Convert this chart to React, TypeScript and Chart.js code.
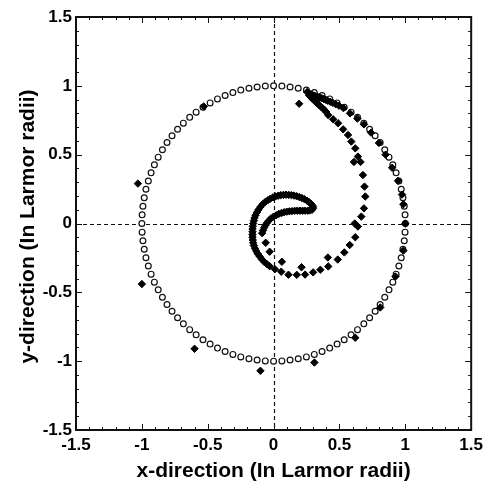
import { useEffect, useRef } from "react";
import { Chart, registerables } from "chart.js";

Chart.register(...registerables);

const FONT = '"Liberation Sans", Arial, Helvetica, sans-serif';

// Axis range and tick labels (both axes share them)
const axisMin = -1.5;
const axisMax = 1.5;
const majorStep = 0.5;
const minorStep = 0.1;
const tickLabels = ["-1.5", "-1", "-0.5", "0", "0.5", "1", "1.5"];
const xTitle = "x-direction (In Larmor radii)";
const yTitle = "y-direction (In Larmor radii)";

type Pt = [number, number];

// Reference orbit: open circles on the unit Larmor circle
const ringPoints: Pt[] = [
  [1, 0], [0.998, 0.063], [0.992, 0.125], [0.982, 0.187], [0.969, 0.249], [0.951, 0.309],
  [0.93, 0.368], [0.905, 0.426], [0.876, 0.482], [0.844, 0.536], [0.809, 0.588], [0.771, 0.637],
  [0.729, 0.685], [0.685, 0.729], [0.637, 0.771], [0.588, 0.809], [0.536, 0.844], [0.482, 0.876],
  [0.426, 0.905], [0.368, 0.93], [0.309, 0.951], [0.249, 0.969], [0.187, 0.982], [0.125, 0.992],
  [0.063, 0.998], [0, 1],
  [-0.063, 0.998], [-0.125, 0.992], [-0.187, 0.982], [-0.249, 0.969], [-0.309, 0.951],
  [-0.368, 0.93], [-0.426, 0.905], [-0.482, 0.876], [-0.536, 0.844], [-0.588, 0.809],
  [-0.637, 0.771], [-0.685, 0.729], [-0.729, 0.685], [-0.771, 0.637], [-0.809, 0.588],
  [-0.844, 0.536], [-0.876, 0.482], [-0.905, 0.426], [-0.93, 0.368], [-0.951, 0.309],
  [-0.969, 0.249], [-0.982, 0.187], [-0.992, 0.125], [-0.998, 0.063], [-1, 0],
  [-0.998, -0.063], [-0.992, -0.125], [-0.982, -0.187], [-0.969, -0.249], [-0.951, -0.309],
  [-0.93, -0.368], [-0.905, -0.426], [-0.876, -0.482], [-0.844, -0.536], [-0.809, -0.588],
  [-0.771, -0.637], [-0.729, -0.685], [-0.685, -0.729], [-0.637, -0.771], [-0.588, -0.809],
  [-0.536, -0.844], [-0.482, -0.876], [-0.426, -0.905], [-0.368, -0.93], [-0.309, -0.951],
  [-0.249, -0.969], [-0.187, -0.982], [-0.125, -0.992], [-0.063, -0.998], [0, -1],
  [0.063, -0.998], [0.125, -0.992], [0.187, -0.982], [0.249, -0.969], [0.309, -0.951],
  [0.368, -0.93], [0.426, -0.905], [0.482, -0.876], [0.536, -0.844], [0.588, -0.809],
  [0.637, -0.771], [0.685, -0.729], [0.729, -0.685], [0.771, -0.637], [0.809, -0.588],
  [0.844, -0.536], [0.876, -0.482], [0.905, -0.426], [0.93, -0.368], [0.951, -0.309],
  [0.969, -0.249], [0.982, -0.187], [0.992, -0.125], [0.998, -0.063],
];

// Particle positions (filled diamonds)
const crescentOuter: Pt[] = [
  [-0.03, -0.31], [-0.05, -0.295], [-0.07, -0.28], [-0.09, -0.26], [-0.105, -0.24],
  [-0.12, -0.22], [-0.132, -0.2], [-0.142, -0.18], [-0.15, -0.16], [-0.155, -0.14],
  [-0.158, -0.12], [-0.16, -0.1], [-0.16, -0.08], [-0.16, -0.06], [-0.16, -0.04],
  [-0.158, -0.02], [-0.155, 0], [-0.15, 0.02], [-0.145, 0.04], [-0.137, 0.06],
  [-0.127, 0.08], [-0.115, 0.1], [-0.1, 0.12], [-0.083, 0.14], [-0.065, 0.155],
  [-0.045, 0.168], [-0.025, 0.18], [-0.005, 0.19], [0.015, 0.197], [0.035, 0.202],
  [0.055, 0.206], [0.075, 0.208], [0.095, 0.209], [0.115, 0.208], [0.135, 0.206],
  [0.155, 0.203], [0.175, 0.198], [0.195, 0.192], [0.215, 0.185], [0.235, 0.176],
  [0.255, 0.165], [0.272, 0.153], [0.287, 0.14], [0.298, 0.126], [0.3, 0.112],
  [0.292, 0.1], [0.275, 0.095],
];

const crescentInner: Pt[] = [
  [0.26, 0.093], [0.24, 0.093], [0.22, 0.093], [0.2, 0.093], [0.18, 0.093], [0.16, 0.092],
  [0.14, 0.09], [0.12, 0.088], [0.1, 0.086], [0.08, 0.082], [0.06, 0.076], [0.04, 0.07],
  [0.02, 0.06], [0, 0.05], [-0.02, 0.037], [-0.035, 0.022], [-0.05, 0.005],
  [-0.062, -0.012], [-0.072, -0.03], [-0.08, -0.05], [-0.087, -0.07],
];

const innerTrail: Pt[] = [
  [-0.06, -0.14], [-0.03, -0.205], [0.063, -0.278], [0.212, -0.318], [0.412, -0.247],
  [0.616, 0.0], [0.61, 0.447], [0.194, 0.87],
];

const spiralArm: Pt[] = [
  [0.01, -0.332], [0.058, -0.35], [0.113, -0.372], [0.176, -0.373], [0.239, -0.371],
  [0.3, -0.355], [0.355, -0.336], [0.415, -0.312], [0.487, -0.262], [0.537, -0.21],
  [0.578, -0.156], [0.62, -0.1], [0.64, -0.022], [0.666, 0.05], [0.686, 0.11],
  [0.696, 0.196], [0.69, 0.268], [0.678, 0.352], [0.66, 0.447], [0.64, 0.486],
  [0.62, 0.546], [0.59, 0.595], [0.565, 0.643], [0.528, 0.684], [0.49, 0.728],
  [0.452, 0.757], [0.414, 0.788], [0.4, 0.81], [0.388, 0.823], [0.374, 0.836],
  [0.36, 0.848], [0.346, 0.86], [0.332, 0.872], [0.318, 0.884], [0.305, 0.896],
  [0.292, 0.908], [0.28, 0.92], [0.27, 0.93],
];

const outerArm: Pt[] = [
  [0.255, 0.955], [0.265, 0.948], [0.275, 0.942], [0.29, 0.936], [0.305, 0.93],
  [0.32, 0.925], [0.335, 0.92], [0.35, 0.915], [0.365, 0.91], [0.38, 0.905],
  [0.395, 0.899], [0.41, 0.892], [0.43, 0.884], [0.45, 0.876], [0.472, 0.866],
  [0.496, 0.856], [0.53, 0.838], [0.58, 0.8], [0.636, 0.762], [0.686, 0.72],
  [0.74, 0.66], [0.8, 0.585], [0.85, 0.5], [0.9, 0.405], [0.945, 0.31],
  [0.975, 0.21], [0.985, 0.14], [1.0, 0.0],
];

const strayParticles: Pt[] = [
  [0.985, -0.197], [0.925, -0.385], [0.81, -0.61], [0.62, -0.83], [0.31, -1.01],
  [-0.1, -1.07], [-0.6, -0.91], [-1.0, -0.44], [-1.03, 0.29], [-0.53, 0.85],
];

const toXY = (pts: Pt[]) => pts.map(([x, y]) => ({ x, y }));

const framePlugin = {
  id: "frameAndGuides",
  beforeDatasetsDraw(chart: any) {
    const { ctx, chartArea: a, scales } = chart;
    const x0 = Math.round(scales.x.getPixelForValue(0)) + 0.5;
    const y0 = Math.round(scales.y.getPixelForValue(0)) + 0.5;
    ctx.save();
    ctx.strokeStyle = "#111";
    ctx.lineWidth = 1.2;
    ctx.setLineDash([4, 3]);
    ctx.beginPath();
    ctx.moveTo(x0, a.top);
    ctx.lineTo(x0, a.bottom);
    ctx.moveTo(a.left, y0);
    ctx.lineTo(a.right, y0);
    ctx.stroke();
    ctx.restore();
  },
  afterDatasetsDraw(chart: any) {
    const { ctx, chartArea: a, scales } = chart;
    ctx.save();
    ctx.strokeStyle = "#111";
    ctx.lineWidth = 1;
    ctx.beginPath();
    const n = Math.round((axisMax - axisMin) / minorStep);
    for (let i = 0; i <= n; i++) {
      const v = axisMin + i * minorStep;
      const len = i % 5 === 0 ? 6 : 3;
      const px = Math.round(scales.x.getPixelForValue(v)) + 0.5;
      const py = Math.round(scales.y.getPixelForValue(v)) + 0.5;
      ctx.moveTo(px, a.bottom);
      ctx.lineTo(px, a.bottom - len);
      ctx.moveTo(px, a.top);
      ctx.lineTo(px, a.top + len);
      ctx.moveTo(a.left, py);
      ctx.lineTo(a.left + len, py);
      ctx.moveTo(a.right, py);
      ctx.lineTo(a.right - len, py);
    }
    ctx.stroke();
    ctx.lineWidth = 2;
    ctx.strokeStyle = "#111";
    ctx.strokeRect(a.left, a.top, a.right - a.left, a.bottom - a.top);
    ctx.restore();
  },
  afterDraw(chart: any) {
    const { ctx, chartArea: a } = chart;
    ctx.save();
    ctx.fillStyle = "#000";
    ctx.font = `bold 21px ${FONT}`;
    ctx.textAlign = "center";
    ctx.textBaseline = "alphabetic";
    ctx.fillText(xTitle, (a.left + a.right) / 2, 477);
    ctx.translate(34, (a.top + a.bottom) / 2 + 3);
    ctx.rotate(-Math.PI / 2);
    ctx.fillText(yTitle, 0, 0);
    ctx.restore();
  },
};

export default function App() {
  const canvasRef = useRef<HTMLCanvasElement | null>(null);

  useEffect(() => {
    const canvas = canvasRef.current;
    if (!canvas) return;
    const diamonds = [
      ...crescentOuter,
      ...crescentInner,
      ...innerTrail,
      ...spiralArm,
      ...outerArm,
      ...strayParticles,
    ];
    const tickFont = { family: FONT, size: 17, weight: "bold" as const };
    const labelFor = (value: number | string) => {
      const idx = Math.round((Number(value) - axisMin) / majorStep);
      return tickLabels[idx] ?? "";
    };
    const chart = new Chart(canvas, {
      type: "scatter",
      data: {
        datasets: [
          {
            label: "particles",
            data: toXY(diamonds),
            pointStyle: "rectRot",
            radius: 3.7,
            borderWidth: 1,
            backgroundColor: "#000",
            borderColor: "#000",
          },
          {
            label: "orbit",
            data: toXY(ringPoints),
            pointStyle: "circle",
            radius: 2.9,
            borderWidth: 1.2,
            backgroundColor: "#fff",
            borderColor: "#111",
          },
        ],
      },
      options: {
        animation: false,
        responsive: false,
        devicePixelRatio: 1,
        layout: { padding: { top: 17, right: 14, left: 0, bottom: 0 } },
        plugins: {
          legend: { display: false },
          tooltip: { enabled: false },
        },
        scales: {
          x: {
            type: "linear",
            min: axisMin,
            max: axisMax,
            grid: { display: false, drawTicks: false },
            border: { display: false },
            ticks: {
              stepSize: majorStep,
              autoSkip: false,
              maxRotation: 0,
              padding: 5,
              color: "#000",
              font: tickFont,
              callback: labelFor,
            },
            afterFit: (scale: any) => {
              scale.height = 56;
            },
          },
          y: {
            type: "linear",
            min: axisMin,
            max: axisMax,
            grid: { display: false, drawTicks: false },
            border: { display: false },
            ticks: {
              stepSize: majorStep,
              autoSkip: false,
              padding: 4,
              color: "#000",
              font: tickFont,
              callback: labelFor,
            },
            afterFit: (scale: any) => {
              scale.width = 76;
            },
          },
        },
      },
      plugins: [framePlugin],
    });
    return () => chart.destroy();
  }, []);

  return (
    <div style={{ position: "fixed", left: 0, top: 0, width: 488, height: 486, background: "#fff" }}>
      <canvas ref={canvasRef} width={488} height={486} style={{ display: "block" }} />
    </div>
  );
}
